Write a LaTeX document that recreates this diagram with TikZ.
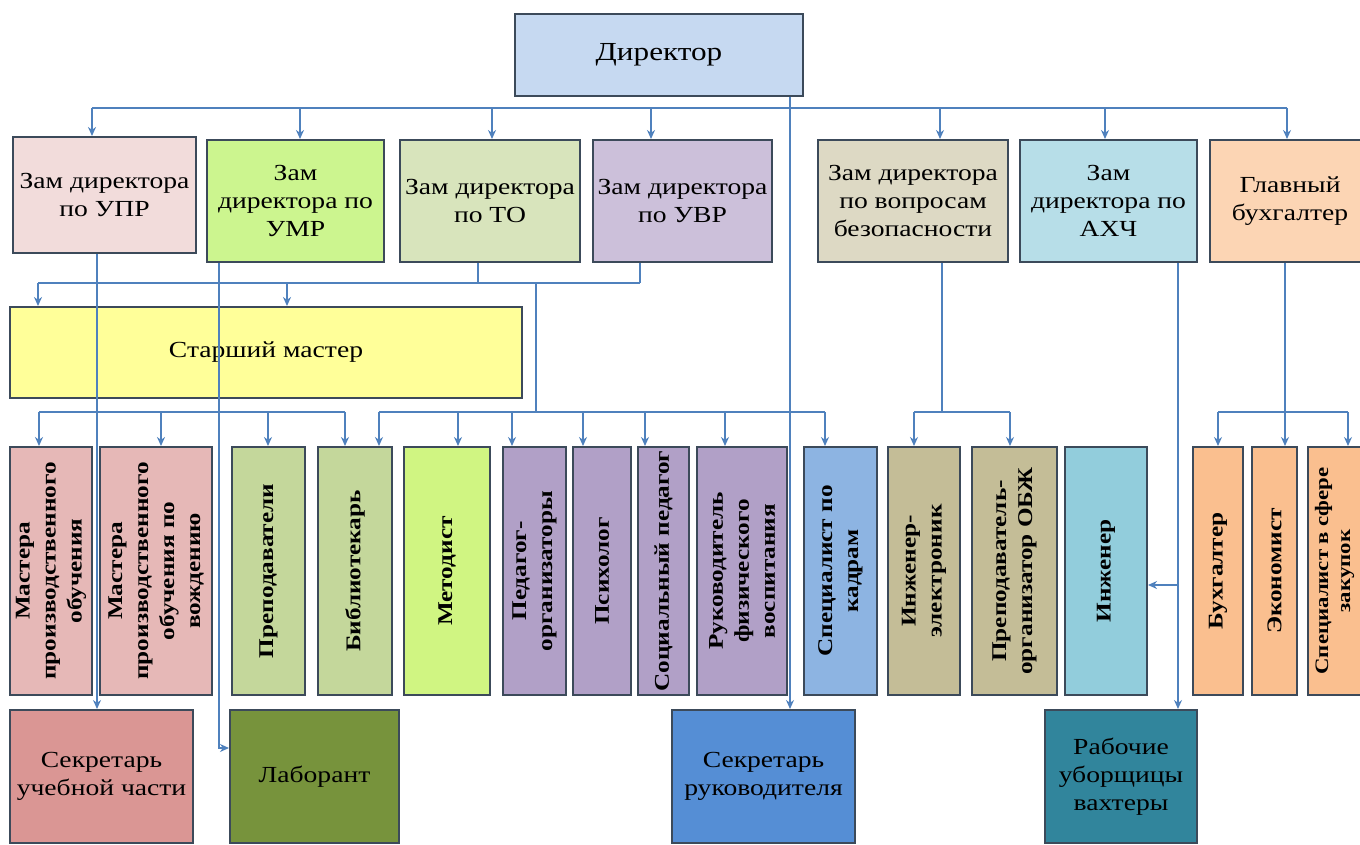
\documentclass[tikz,border=0pt]{standalone}
\usepackage{fontspec}
\setmainfont[FakeStretch=1.2]{Liberation Serif}
\usetikzlibrary{arrows.meta}
\definecolor{ln}{HTML}{4F81BD}
\definecolor{bd}{HTML}{3C4A5A}
\definecolor{cdir}{HTML}{C6D9F1}
\definecolor{cupr}{HTML}{F2DCDB}
\definecolor{cumr}{HTML}{CCF58F}
\definecolor{cto}{HTML}{D8E4BC}
\definecolor{cuvr}{HTML}{CCC0DA}
\definecolor{cbez}{HTML}{DDD9C4}
\definecolor{cahch}{HTML}{B7DEE8}
\definecolor{cbuh}{HTML}{FCD5B4}
\definecolor{csm}{HTML}{FFFF99}
\definecolor{cm}{HTML}{E6B8B7}
\definecolor{cpr}{HTML}{C4D79B}
\definecolor{cmet}{HTML}{D0F582}
\definecolor{cpu}{HTML}{B1A0C7}
\definecolor{ckad}{HTML}{8DB4E2}
\definecolor{ctan}{HTML}{C4BD97}
\definecolor{cing}{HTML}{92CDDC}
\definecolor{cor}{HTML}{FABF8F}
\definecolor{csec}{HTML}{DA9694}
\definecolor{clab}{HTML}{77933C}
\definecolor{csec2}{HTML}{558ED5}
\definecolor{crab}{HTML}{31859C}
\begin{document}
\begin{tikzpicture}[x=1pt,y=-1pt,
  box/.style={draw=bd, line width=2pt, align=center, inner sep=1pt, text=black,
    font=\fontsize{23}{28}\selectfont},
  vtext/.style={rotate=90, align=center, inner sep=0pt, text=black,
    font=\bfseries\fontsize{21}{26}\selectfont},
  conn/.style={draw=ln, line width=2pt},
  arr/.style={conn, -{Stealth[length=9pt,width=8pt]}}]
\useasboundingbox (0,0) rectangle (1360,845);

% Director
\node[box, fill=cdir, minimum width=288pt, minimum height=82pt, font=\fontsize{26}{30}\selectfont] (dir) at (659,55) {Директор};

% Row 2
\node[box, fill=cupr, minimum width=183pt, minimum height=116pt] (upr) at (104.5,195) {Зам директора\\по УПР};
\node[box, fill=cumr, minimum width=177pt, minimum height=122pt] (umr) at (295.5,201) {Зам\\директора по\\УМР};
\node[box, fill=cto, minimum width=180pt, minimum height=122pt] (to) at (490,201) {Зам директора\\по ТО};
\node[box, fill=cuvr, minimum width=179pt, minimum height=122pt] (uvr) at (682.5,201) {Зам директора\\по УВР};
\node[box, fill=cbez, minimum width=190pt, minimum height=122pt] (bez) at (913,201) {Зам директора\\по вопросам\\безопасности};
\node[box, fill=cahch, minimum width=177pt, minimum height=122pt] (ahch) at (1108.5,201) {Зам\\директора по\\АХЧ};
\node[box, fill=cbuh, minimum width=160pt, minimum height=122pt] (buh) at (1290,201) {Главный\\бухгалтер};

% Senior master
\node[box, fill=csm, minimum width=512pt, minimum height=91pt] (sm) at (266,352.5) {Старший мастер};

% Row 4 boxes
\node[box, fill=cm, minimum width=82pt, minimum height=248pt] (m1) at (51,571) {};
\node[box, fill=cm, minimum width=112pt, minimum height=248pt] (m2) at (156,571) {};
\node[box, fill=cpr, minimum width=73pt, minimum height=248pt] (prep) at (268.5,571) {};
\node[box, fill=cpr, minimum width=74pt, minimum height=248pt] (bib) at (355,571) {};
\node[box, fill=cmet, minimum width=86pt, minimum height=248pt] (met) at (447,571) {};
\node[box, fill=cpu, minimum width=63pt, minimum height=248pt] (ped) at (534.5,571) {};
\node[box, fill=cpu, minimum width=58pt, minimum height=248pt] (psy) at (602,571) {};
\node[box, fill=cpu, minimum width=51pt, minimum height=248pt] (soc) at (663.5,571) {};
\node[box, fill=cpu, minimum width=90pt, minimum height=248pt] (ruk) at (742,571) {};
\node[box, fill=ckad, minimum width=73pt, minimum height=248pt] (kad) at (840.5,571) {};
\node[box, fill=ctan, minimum width=72pt, minimum height=248pt] (iel) at (924,571) {};
\node[box, fill=ctan, minimum width=85pt, minimum height=248pt] (obzh) at (1014.5,571) {};
\node[box, fill=cing, minimum width=82pt, minimum height=248pt] (ing) at (1106,571) {};
\node[box, fill=cor, minimum width=50pt, minimum height=248pt] (bux) at (1218,571) {};
\node[box, fill=cor, minimum width=45pt, minimum height=248pt] (eco) at (1274.5,571) {};
\node[box, fill=cor, minimum width=67pt, minimum height=248pt] (zak) at (1341.5,571) {};

% Row 4 texts
\node[vtext] (m1t) at (m1) {Мастера\\производственного\\обучения};
\node[vtext] (m2t) at (m2) {Мастера\\производственного\\обучения по\\вождению};
\node[vtext] (prept) at (prep) {Преподаватели};
\node[vtext] (bibt) at (bib) {Библиотекарь};
\node[vtext] (mett) at (met) {Методист};
\node[vtext] (pedt) at (ped) {Педагог-\\организаторы};
\node[vtext] (psyt) at (psy) {Психолог};
\node[vtext] (soct) at (soc) {Социальный педагог};
\node[vtext] (rukt) at (ruk) {Руководитель\\физического\\воспитания};
\node[vtext] (kadt) at (kad) {Специалист по\\кадрам};
\node[vtext] (ielt) at (iel) {Инженер-\\электроник};
\node[vtext] (obzht) at (obzh) {Преподаватель-\\организатор ОБЖ};
\node[vtext] (ingt) at (ing) {Инженер};
\node[vtext] (buxt) at (bux) {Бухгалтер};
\node[vtext] (ecot) at (eco) {Экономист};
\node[vtext, font=\bfseries\fontsize{19}{22}\selectfont] (zakt) at ([xshift=-7pt]zak.center) {Специалист в сфере\\закупок};

% Bottom row
\node[box, fill=csec, minimum width=183pt, minimum height=133pt] (sec1) at (101.5,776.5) {Секретарь\\учебной части};
\node[box, fill=clab, minimum width=169pt, minimum height=133pt] (lab) at (314.5,776.5) {Лаборант};
\node[box, fill=csec2, minimum width=183pt, minimum height=133pt] (sec2) at (763.5,776.5) {Секретарь\\руководителя};
\node[box, fill=crab, minimum width=152pt, minimum height=133pt] (rab) at (1121,776.5) {Рабочие\\уборщицы\\вахтеры};

% ---- connectors ----
% top bus
\coordinate (t1) at (92,108);
\coordinate (t2) at (300,108);
\coordinate (t3) at (492,108);
\coordinate (t4) at (651,108);
\coordinate (t5) at (940,108);
\coordinate (t6) at (1105,108);
\coordinate (t7) at (1287,108);
\coordinate (dl) at (790,108);
\draw[conn] (t1) -- (t7);
\draw[arr] (t1) -- (t1 |- upr.north);
\draw[arr] (t2) -- (t2 |- umr.north);
\draw[arr] (t3) -- (t3 |- to.north);
\draw[arr] (t4) -- (t4 |- uvr.north);
\draw[arr] (t5) -- (t5 |- bez.north);
\draw[arr] (t6) -- (t6 |- ahch.north);
\draw[arr] (t7) -- (t7 |- buh.north);
\draw[arr] (dl |- dir.south) -- (dl |- sec2.north);

% row 2 to senior master
\coordinate (s1) at (38,283);
\coordinate (s2) at (287,283);
\coordinate (sto) at (478,283);
\coordinate (suvr) at (640,283);
\coordinate (smid) at (536,283);
\draw[conn] (s1) -- (suvr);
\draw[arr] (s1) -- (s1 |- sm.north);
\draw[arr] (s2) -- (s2 |- sm.north);
\draw[conn] (sto |- to.south) -- (sto);
\draw[conn] (suvr |- uvr.south) -- (suvr);

% long lines
\coordinate (vupr) at (97,283);
\coordinate (vumr) at (219,748);
\draw[arr] (vupr |- upr.south) -- (vupr |- sec1.north);
\draw[arr] (vumr |- umr.south) -- (vumr) -- (vumr -| lab.west);

% left row-4 bus
\coordinate (lj) at (219,412);
\coordinate (l1) at (39,412);
\coordinate (l2) at (161,412);
\coordinate (l3) at (268,412);
\coordinate (l4) at (345,412);
\draw[conn] (l1) -- (l4);
\draw[arr] (l1) -- (l1 |- m1.north);
\draw[arr] (l2) -- (l2 |- m2.north);
\draw[arr] (l3) -- (l3 |- prep.north);
\draw[arr] (l4) -- (l4 |- bib.north);

% right row-4 bus
\coordinate (rj) at (536,412);
\coordinate (r0) at (379,412);
\coordinate (r1) at (458,412);
\coordinate (r2) at (512,412);
\coordinate (r3) at (583,412);
\coordinate (r4) at (645,412);
\coordinate (r5) at (725,412);
\coordinate (r6) at (825,412);
\draw[conn] (smid) -- (rj);
\draw[conn] (r0) -- (r6);
\draw[arr] (r0) -- (r0 |- bib.north);
\draw[arr] (r1) -- (r1 |- met.north);
\draw[arr] (r2) -- (r2 |- ped.north);
\draw[arr] (r3) -- (r3 |- psy.north);
\draw[arr] (r4) -- (r4 |- soc.north);
\draw[arr] (r5) -- (r5 |- ruk.north);
\draw[arr] (r6) -- (r6 |- kad.north);

% safety bus
\coordinate (zj) at (942,412);
\coordinate (z1) at (914,412);
\coordinate (z2) at (1010,412);
\draw[conn] (zj |- bez.south) -- (zj);
\draw[conn] (z1) -- (z2);
\draw[arr] (z1) -- (z1 |- iel.north);
\draw[arr] (z2) -- (z2 |- obzh.north);

% AHCh line
\coordinate (ax) at (1178,585);
\draw[arr] (ax |- ahch.south) -- (ax |- rab.north);
\draw[arr] (ax) -- (ax -| ing.east);

% accountant bus
\coordinate (g1) at (1218,412);
\coordinate (g2) at (1285,412);
\coordinate (g3) at (1348,412);
\draw[conn] (g2 |- buh.south) -- (g2);
\draw[conn] (g1) -- (g3);
\draw[arr] (g1) -- (g1 |- bux.north);
\draw[arr] (g2) -- (g2 |- eco.north);
\draw[arr] (g3) -- (g3 |- zak.north);
\end{tikzpicture}
\end{document}
